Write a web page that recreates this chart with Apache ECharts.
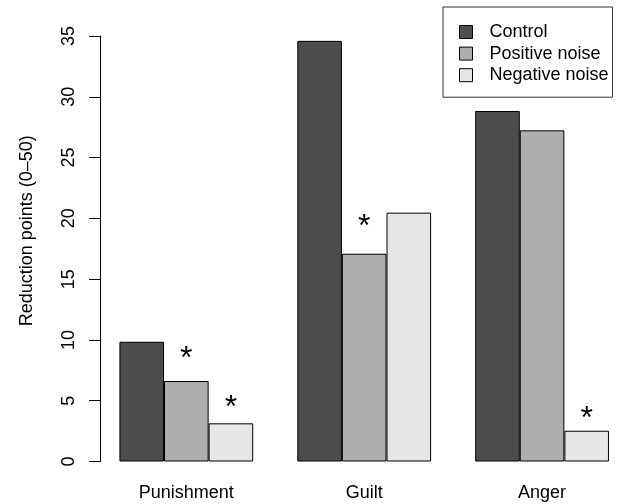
<!DOCTYPE html>
<html>
<head>
<meta charset="utf-8">
<script src="https://cdn.jsdelivr.net/npm/echarts@6/dist/echarts.min.js"></script>
<style>html,body{margin:0;padding:0;background:#fff}#c{width:622px;height:504px}</style>
</head>
<body>
<div id="c"></div>
<script>
var categories = ['Punishment', 'Guilt', 'Anger'];
var seriesNames = ['Control', 'Positive noise', 'Negative noise'];
var controlVals = [9.85, 34.6, 28.83];
var positiveVals = [6.62, 17.09, 27.24];
var negativeVals = [3.14, 20.47, 2.53];
// vertical position (in data units) of the significance asterisks
var sigControl = [null, null, null];
var sigPositive = [8.97, 19.86, null];
var sigNegative = [4.94, null, 4.03];
var yTicks = [0, 5, 10, 15, 20, 25, 30, 35];

var FONT = "'Liberation Sans', Arial, Helvetica, sans-serif";
var colors = ['#4D4D4D', '#AEAEAE', '#E6E6E6'];
var chart = echarts.init(document.getElementById('c'), null, {renderer: 'canvas'});

function barSeries(name, data, color) {
  return {
    name: name, type: 'bar', xAxisIndex: 0, data: data,
    barWidth: 44.6, barGap: '0%',
    itemStyle: {color: color, borderColor: '#000', borderWidth: 1},
    emphasis: {disabled: true}
  };
}
function sigSeries(data) {
  return {
    type: 'bar', xAxisIndex: 1, data: data, silent: true,
    barWidth: 44.6, barGap: '0%',
    itemStyle: {color: 'rgba(0,0,0,0)', borderWidth: 0},
    label: {
      show: true, position: 'top', distance: 0, verticalAlign: 'middle',
      offset: [0, 7], formatter: '*', fontSize: 32, color: '#000', fontFamily: FONT
    },
    emphasis: {disabled: true}, tooltip: {show: false}
  };
}

chart.setOption({
  animation: false,
  backgroundColor: '#fff',
  grid: {left: 97.4, top: 36, width: 533.6, bottom: 42.5, containLabel: false, outerBoundsMode: 'none'},
  legend: {
    data: seriesNames, orient: 'vertical', left: 443, top: 7,
    padding: [16, 4, 13, 16], itemGap: 3.6, itemWidth: 13, itemHeight: 13,
    icon: 'rect', borderColor: '#333', borderWidth: 1,
    itemStyle: {borderColor: '#000', borderWidth: 1},
    textStyle: {fontSize: 18, color: '#000', fontFamily: FONT, padding: [0, 0, 0, 12]},
    selectedMode: false
  },
  xAxis: [{
    type: 'category', data: categories,
    axisLine: {show: false}, axisTick: {show: false},
    axisLabel: {fontSize: 18, color: '#000', fontFamily: FONT, margin: 23}
  }, {
    type: 'category', data: categories, show: false
  }],
  yAxis: {
    type: 'value', min: 0, max: 35, interval: 5, offset: -2.6,
    name: 'Reduction points (0\u201350)', nameLocation: 'middle', nameRotate: 90, nameGap: 64,
    nameTextStyle: {fontSize: 18, color: '#000', fontFamily: FONT, padding: [0, 0, 0, 36]},
    axisLine: {show: true, lineStyle: {color: '#000', width: 1}},
    axisTick: {show: true, length: 11, lineStyle: {color: '#000', width: 1}},
    splitLine: {show: false},
    axisLabel: {
      rotate: 90, fontSize: 18, color: '#000', fontFamily: FONT, margin: 22,
      customValues: yTicks,
      formatter: function (v) { return String(v); }
    }
  },
  series: [
    barSeries(seriesNames[0], controlVals, colors[0]),
    barSeries(seriesNames[1], positiveVals, colors[1]),
    barSeries(seriesNames[2], negativeVals, colors[2]),
    sigSeries(sigControl),
    sigSeries(sigPositive),
    sigSeries(sigNegative)
  ]
});
</script>
</body>
</html>
